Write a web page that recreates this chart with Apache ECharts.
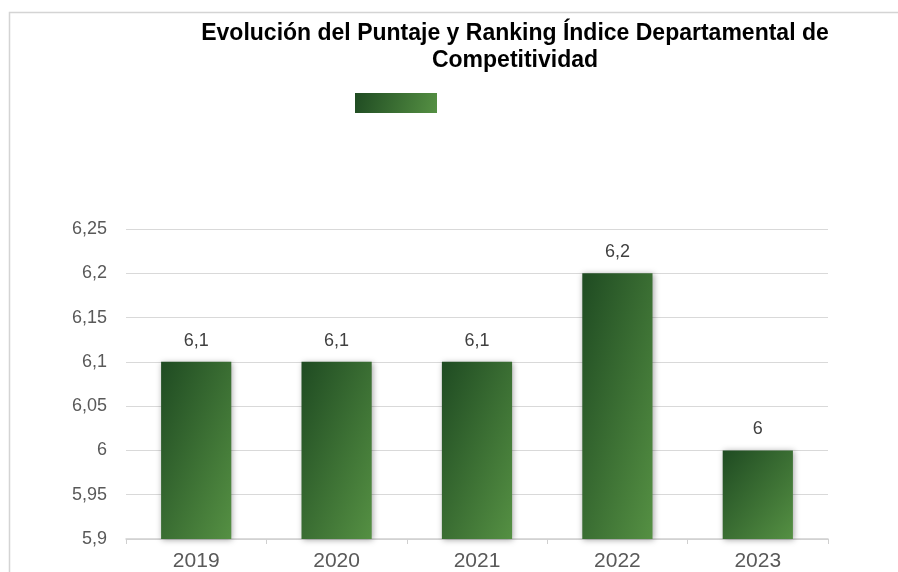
<!DOCTYPE html>
<html>
<head>
<meta charset="utf-8">
<script src="https://cdn.jsdelivr.net/npm/echarts@6/dist/echarts.min.js"></script>
<style>
  html, body { margin: 0; padding: 0; background: #fff; }
  #chart { width: 898px; height: 572px; }
</style>
</head>
<body>
<div id="chart"></div>
<script>
const years = ['2019', '2020', '2021', '2022', '2023']
const puntaje = [6.1, 6.1, 6.1, 6.2, 6.0]
const yMin = 5.9, yMax = 6.25, yStep = 0.05

function coma(v) {
  return String(Number(v.toFixed(2))).replace('.', ',')
}

// degradado diagonal "tipo Excel": mismo color en la diagonal opuesta de cada barra
function gradiente(x2, y2) {
  return new echarts.graphic.LinearGradient(0, 0, x2, y2, [
    { offset: 0, color: '#1f4b22' },
    { offset: 1, color: '#559043' }
  ])
}

const chart = echarts.init(document.getElementById('chart'))

chart.setOption({
  animation: false,
  textStyle: { fontFamily: 'Liberation Sans, Arial, sans-serif' },
  graphic: [{
    type: 'rect', left: 7, top: 10,
    shape: { width: 900, height: 600 },
    style: { fill: 'none', stroke: '#d4d4d4', lineWidth: 1.5 },
    silent: true, z: -1
  }],
  title: {
    text: 'Evolución del Puntaje y Ranking Índice Departamental de\nCompetitividad',
    left: 510, top: 15, textAlign: 'center',
    textStyle: { fontSize: 23, fontWeight: 'bold', color: '#000', lineHeight: 27 }
  },
  legend: {
    left: 355, top: 93, padding: 0,
    itemWidth: 82, itemHeight: 20, itemGap: 0, icon: 'rect',
    formatter: () => '',
    data: ['Puntaje']
  },
  grid: { left: 126, right: 70, top: 229, bottom: 32, containLabel: false },
  xAxis: {
    type: 'category', data: years,
    axisLine: { lineStyle: { color: '#d0d0d0', width: 1.5 } },
    axisTick: { show: true, length: 5, lineStyle: { color: '#d0d0d0' } },
    axisLabel: { fontSize: 21, color: '#595959', margin: 12 }
  },
  yAxis: {
    type: 'value', min: yMin, max: yMax, interval: yStep,
    axisLine: { show: false }, axisTick: { show: false },
    splitLine: { lineStyle: { color: '#d9d9d9', width: 1 } },
    axisLabel: { fontSize: 18, color: '#595959', margin: 19, formatter: coma }
  },
  series: [{
    name: 'Puntaje', type: 'bar', data: puntaje, barWidth: '50%',
    itemStyle: {
      color: gradiente(1, 1),
      shadowColor: 'rgba(0,0,0,0.35)', shadowBlur: 6, shadowOffsetX: 1, shadowOffsetY: 1
    },
    label: {
      show: true, position: 'top', distance: 12,
      fontSize: 18, color: '#404040',
      formatter: p => coma(p.value)
    }
  }]
})

// ajustar el degradado de cada barra a su tamaño en pixeles
const x0 = chart.convertToPixel({ xAxisIndex: 0 }, 0)
const x1 = chart.convertToPixel({ xAxisIndex: 0 }, 1)
const w = (x1 - x0) * 0.5
const base = chart.convertToPixel({ yAxisIndex: 0 }, yMin)
const items = puntaje.map(v => {
  const h = base - chart.convertToPixel({ yAxisIndex: 0 }, v)
  const d = w * w + h * h
  return { value: v, itemStyle: { color: gradiente(2 * h * h / d, 2 * w * w / d) } }
})
chart.setOption({ series: [{ data: items }] })
</script>
</body>
</html>
